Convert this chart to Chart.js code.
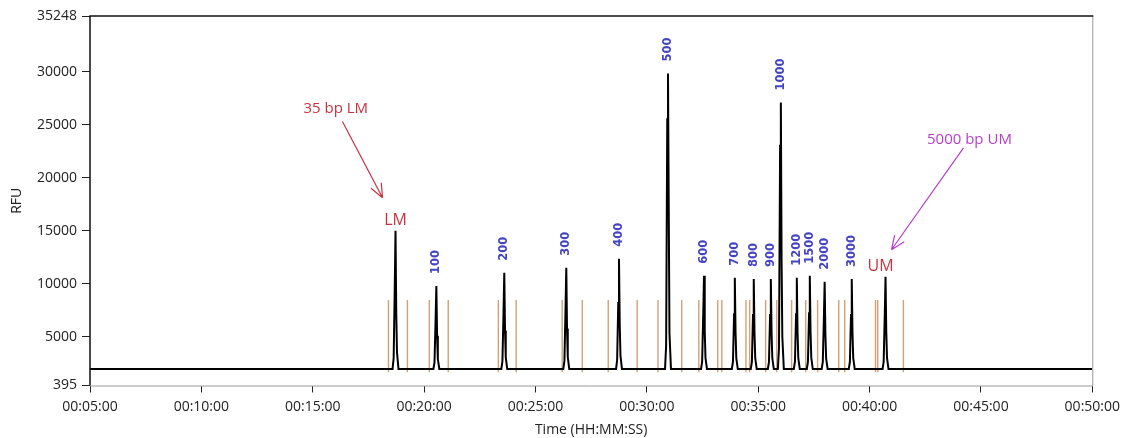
<!DOCTYPE html>
<html>
<head>
<meta charset="utf-8">
<script src="https://cdn.jsdelivr.net/npm/chart.js@4/dist/chart.umd.min.js"></script>
<style>
  body { margin: 0; background: #fff; }
  #wrap { width: 1126px; height: 438px; }
</style>
</head>
<body>
<div id="wrap"><canvas id="chart" width="1126" height="438"></canvas></div>
<script>
// electropherogram trace, time in seconds, signal in RFU
const traceSec = [300,
  1115, 1118, 1121, 1123, 1125, 1127, 1131,   // LM
  1225, 1228, 1231, 1233, 1235, 1237, 1241,   // 100
  1408, 1411, 1414, 1416, 1418, 1420, 1424,   // 200
  1575, 1578, 1581, 1583, 1585, 1587, 1591,   // 300
  1717, 1720, 1723, 1725, 1727, 1729, 1733,   // 400
  1849, 1852, 1855, 1857, 1859, 1861, 1865,   // 500
  1946, 1949, 1952, 1954, 1956, 1958, 1962,   // 600
  2029, 2032, 2035, 2037, 2039, 2041, 2045,   // 700
  2080, 2083, 2086, 2088, 2090, 2092, 2096,   // 800
  2126, 2129, 2132, 2134, 2136, 2138, 2142,   // 900
  2153, 2156, 2159, 2161, 2163, 2165, 2169,   // 1000
  2196, 2199, 2202, 2204, 2206, 2208, 2212,   // 1200
  2231, 2234, 2237, 2239, 2241, 2243, 2247,   // 1500
  2271, 2274, 2277, 2279, 2281, 2283, 2287,   // 2000
  2344, 2347, 2350, 2352, 2354, 2356, 2360,   // 3000
  2435, 2438, 2441, 2443, 2445, 2447, 2451,   // UM
  3000];
const traceRFU = [1950,
  1950, 2990, 9770, 14990, 7170, 3510, 1950,
  1950, 2580, 6650, 9790, 5090, 2890, 1950,
  1950, 2680, 7390, 11020, 5580, 3040, 1950,
  1950, 2710, 7670, 11490, 5770, 3090, 1950,
  1950, 2780, 8180, 12340, 6110, 3200, 1950,
  1950, 4180, 25500, 29815, 17100, 5290, 1950,
  1950, 2650, 7220, 10740, 5470, 3000, 1950,
  1950, 2640, 7110, 10550, 5390, 2980, 1950,
  1950, 2630, 7050, 10450, 5350, 2970, 1950,
  1950, 2630, 7050, 10450, 5350, 2970, 1950,
  1950, 3960, 23000, 27080, 12000, 4970, 1950,
  1950, 2640, 7110, 10550, 5390, 2980, 1950,
  1950, 2650, 7220, 10740, 5470, 3000, 1950,
  1950, 2610, 6880, 10170, 5240, 2940, 1950,
  1950, 2630, 7050, 10450, 5350, 2970, 1950,
  1950, 2650, 7160, 10640, 5430, 2990, 1950,
  1950];

// peak calls
const peakNames = ['LM', '100', '200', '300', '400', '500', '600', '700', '800',
  '900', '1000', '1200', '1500', '2000', '3000', 'UM'];
const peakSec = [1123, 1233, 1416, 1583, 1725, 1857, 1954, 2037, 2088,
  2134, 2161, 2204, 2239, 2279, 2352, 2443];
const peakRFU = [14990, 9790, 11020, 11490, 12340, 29815, 10740, 10550, 10450,
  10450, 27080, 10550, 10740, 10170, 10450, 10640];

// orange peak window markers
const markerSec = [1104, 1155, 1214, 1265, 1400, 1448, 1572, 1626, 1696, 1774,
  1830, 1894, 1940, 1991, 2002, 2067, 2077, 2120, 2150, 2190, 2228, 2260,
  2317, 2333, 2416, 2422, 2491];
const markerLow = 1650;
const markerHigh = 8470;

// axes
const yTicks = [395, 5000, 10000, 15000, 20000, 25000, 30000, 35248];
const xMin = 300, xMax = 3000, xStep = 300;

// callouts
const noteText = ['35 bp LM', '5000 bp UM'];
const noteColor = ['#c8323f', '#b53ec8'];
const noteSec = [962, 2669];
const noteRFU = [26500, 23600];
const arrowFromSec = [980, 2653];
const arrowFromRFU = [25300, 22800];
const arrowToSec = [1088, 2459];
const arrowToRFU = [18100, 13200];

const tracePoints = traceSec.map((t, i) => ({ x: t, y: traceRFU[i] }));
const markerPoints = [];
markerSec.forEach(t => {
  markerPoints.push({ x: t, y: markerLow }, { x: t, y: markerHigh }, { x: t, y: null });
});

function hms(v) {
  const h = Math.floor(v / 3600), m = Math.floor((v % 3600) / 60), s = Math.round(v % 60);
  const p = n => String(n).padStart(2, '0');
  return p(h) + ':' + p(m) + ':' + p(s);
}

const axisFont = { family: 'Open Sans', size: 14 };

const overlay = {
  id: 'overlay',
  afterDatasetsDraw(chart) {
    const { ctx, chartArea: a, scales: { x, y } } = chart;
    ctx.save();

    // frame
    ctx.lineWidth = 1;
    ctx.strokeStyle = '#9a9a9a';
    ctx.beginPath();
    ctx.moveTo(a.right + 0.5, a.top); ctx.lineTo(a.right + 0.5, a.bottom + 0.5);
    ctx.lineTo(a.left, a.bottom + 0.5);
    ctx.stroke();
    ctx.strokeStyle = '#111';
    ctx.lineWidth = 1.5;
    ctx.beginPath();
    ctx.moveTo(a.left, a.bottom); ctx.lineTo(a.left, a.top); ctx.lineTo(a.right + 1, a.top);
    ctx.stroke();

    // peak labels
    peakNames.forEach((name, i) => {
      const px = x.getPixelForValue(peakSec[i]);
      const py = y.getPixelForValue(peakRFU[i]);
      if (name === 'LM' || name === 'UM') {
        ctx.fillStyle = '#c8323f';
        ctx.font = '16px "Open Sans"';
        ctx.textAlign = 'center';
        ctx.textBaseline = 'bottom';
        ctx.fillText(name, px + (name === 'UM' ? -5 : 0), py - 2);
      } else {
        ctx.save();
        ctx.translate(px, py - 12);
        ctx.rotate(-Math.PI / 2);
        ctx.fillStyle = '#4444c4';
        ctx.font = 'bold 11.5px "DejaVu Sans"';
        ctx.textAlign = 'left';
        ctx.textBaseline = 'middle';
        ctx.fillText(name, 0, 0);
        ctx.restore();
      }
    });

    // callouts with arrows
    noteText.forEach((txt, i) => {
      ctx.fillStyle = noteColor[i];
      ctx.font = '15px "Open Sans"';
      ctx.textAlign = 'center';
      ctx.textBaseline = 'middle';
      ctx.fillText(txt, x.getPixelForValue(noteSec[i]), y.getPixelForValue(noteRFU[i]));

      const x0 = x.getPixelForValue(arrowFromSec[i]), y0 = y.getPixelForValue(arrowFromRFU[i]);
      const x1 = x.getPixelForValue(arrowToSec[i]), y1 = y.getPixelForValue(arrowToRFU[i]);
      const ang = Math.atan2(y1 - y0, x1 - x0);
      ctx.strokeStyle = noteColor[i];
      ctx.lineWidth = 1.2;
      ctx.beginPath();
      ctx.moveTo(x0, y0); ctx.lineTo(x1, y1);
      [0.4, -0.4].forEach(d => {
        ctx.moveTo(x1, y1);
        ctx.lineTo(x1 - 15 * Math.cos(ang + d), y1 - 15 * Math.sin(ang + d));
      });
      ctx.stroke();
    });
    ctx.restore();
  }
};

new Chart(document.getElementById('chart'), {
  type: 'line',
  data: {
    datasets: [
      {
        data: tracePoints,
        borderColor: '#000',
        borderWidth: 2,
        pointRadius: 0,
        tension: 0,
        order: 0
      },
      {
        data: markerPoints,
        borderColor: '#d4a074',
        borderWidth: 1.4,
        pointRadius: 0,
        spanGaps: false,
        order: 1
      }
    ]
  },
  options: {
    responsive: false,
    animation: false,
    layout: { padding: { top: 16, right: 32, left: 0, bottom: 0 } },
    plugins: { legend: { display: false }, tooltip: { enabled: false } },
    scales: {
      x: {
        type: 'linear',
        min: xMin,
        max: xMax,
        afterFit: s => { s.height = 52.5; },
        ticks: {
          stepSize: xStep,
          callback: v => hms(v),
          color: '#222',
          font: axisFont,
          padding: 6,
          maxRotation: 0,
          autoSkip: false
        },
        grid: { drawOnChartArea: false, drawTicks: true, tickLength: 7, color: '#222' },
        border: { display: false },
        title: {
          display: true,
          text: 'Time (HH:MM:SS)',
          color: '#222',
          font: axisFont,
          padding: { top: 0, bottom: 0 }
        }
      },
      y: {
        min: yTicks[0],
        max: yTicks[yTicks.length - 1],
        afterFit: s => { s.width = 90; },
        afterBuildTicks: s => { s.ticks = yTicks.map(v => ({ value: v })); },
        ticks: {
          callback: v => String(v),
          color: '#222',
          font: axisFont,
          padding: 5,
          autoSkip: false
        },
        grid: { drawOnChartArea: false, drawTicks: true, tickLength: 8, color: '#222' },
        border: { display: false },
        title: {
          display: true,
          text: 'RFU',
          color: '#222',
          font: axisFont,
          padding: { top: 9, bottom: 0 }
        }
      }
    }
  },
  plugins: [overlay]
});
</script>
</body>
</html>
